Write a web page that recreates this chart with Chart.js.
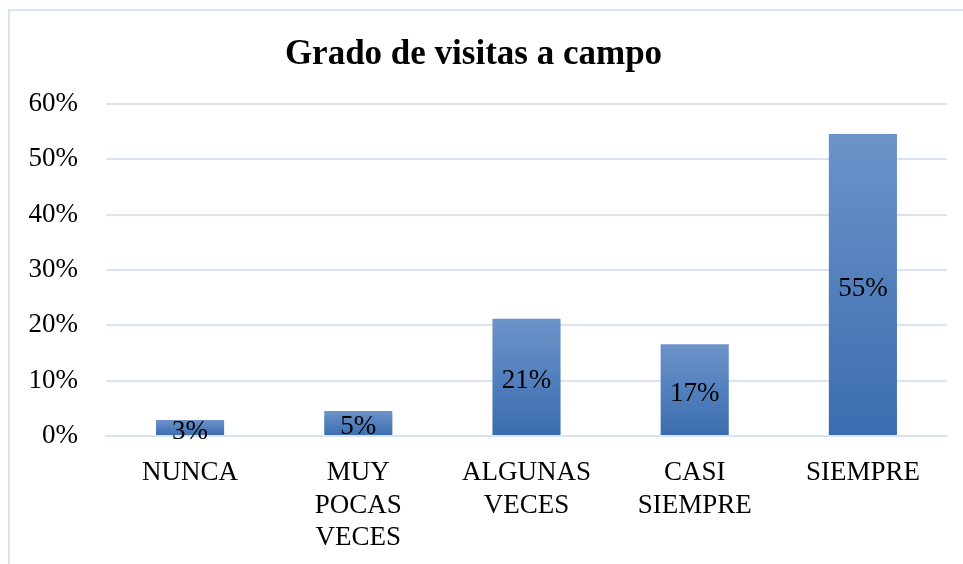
<!DOCTYPE html>
<html>
<head>
<title>Grado de visitas a campo</title>
<script src="https://cdn.jsdelivr.net/npm/chart.js@4/dist/chart.umd.min.js"></script>
<style>
body { margin: 0; background: #fff; overflow: hidden; }
#frame { position: absolute; left: 8px; top: 9px; width: 980px; height: 600px; border: 2px solid #d8e3f3; pointer-events: none; }
#box { position: absolute; left: 0; top: 0; width: 963px; height: 564px; }
</style>
</head>
<body>
<div id="box"><canvas id="bar1" width="963" height="564"></canvas></div>
<div id="frame"></div>

<script>
var categories = ['NUNCA', ['MUY', 'POCAS', 'VECES'], ['ALGUNAS', 'VECES'], ['CASI', 'SIEMPRE'], 'SIEMPRE'];
var values = [2.9, 4.5, 21.2, 16.6, 54.6];
var tickStep = 10;
var yMax = 60;

var serif = "'Liberation Serif', 'Times New Roman', serif";

// vertical gradient inside each bar, lighter at the top
function barFill(c) {
	var chart = c.chart;
	if (!chart.chartArea || c.dataIndex === undefined) return '#4f7fbf';
	var y = chart.scales.y;
	var top = y.getPixelForValue(values[c.dataIndex]);
	var bot = y.getPixelForValue(0);
	var g = chart.ctx.createLinearGradient(0, top, 0, bot);
	g.addColorStop(0, '#6c93c9');
	g.addColorStop(1, '#3a6db0');
	return g;
}

// labels in the middle of each bar
var midLabels = {
	id: 'midLabels',
	afterDatasetsDraw: function(chart) {
		var ctx = chart.ctx;
		var meta = chart.getDatasetMeta(0);
		ctx.save();
		ctx.font = '27px ' + serif;
		ctx.fillStyle = '#000';
		ctx.textAlign = 'center';
		ctx.textBaseline = 'middle';
		meta.data.forEach(function(bar, i) {
			var mid = (bar.y + bar.base) / 2;
			ctx.fillText(Math.round(values[i]) + '%', bar.x, mid + 4);
		});
		ctx.restore();
	}
};

var ctx = document.getElementById('bar1').getContext('2d');
var chart = new Chart(ctx, {
	type: 'bar',
	data: {
		labels: categories,
		datasets: [{
			data: values,
			backgroundColor: barFill,
			borderWidth: 0,
			barPercentage: 0.405,
			categoryPercentage: 1
		}]
	},
	options: {
		responsive: false,
		animation: false,
		layout: { padding: { left: 0, right: 16, top: 0, bottom: 0 } },
		plugins: {
			legend: { display: false },
			tooltip: { enabled: false },
			title: {
				display: true,
				text: 'Grado de visitas a campo',
				color: '#000',
				font: { family: serif, size: 35, weight: 'bold', lineHeight: 1.2 },
				padding: { top: 34, bottom: 28 }
			}
		},
		scales: {
			x: {
				afterFit: function(s) { s.height = 128; },
				grid: { display: false, drawTicks: false },
				border: { color: '#d9e3f2', width: 2 },
				ticks: {
					color: '#000',
					font: { family: serif, size: 27, lineHeight: 1.22 },
					padding: 20,
					maxRotation: 0,
					autoSkip: false
				}
			},
			y: {
				min: 0,
				max: yMax,
				afterFit: function(s) { s.width = 106; },
				grid: { color: '#d9e3f2', lineWidth: 2, drawTicks: false },
				border: { display: false },
				ticks: {
					stepSize: tickStep,
					color: '#000',
					padding: 28,
					font: { family: serif, size: 27 },
					callback: function(v) { return v + '%'; }
				}
			}
		}
	},
	plugins: [midLabels]
});
</script>
</body>
</html>
